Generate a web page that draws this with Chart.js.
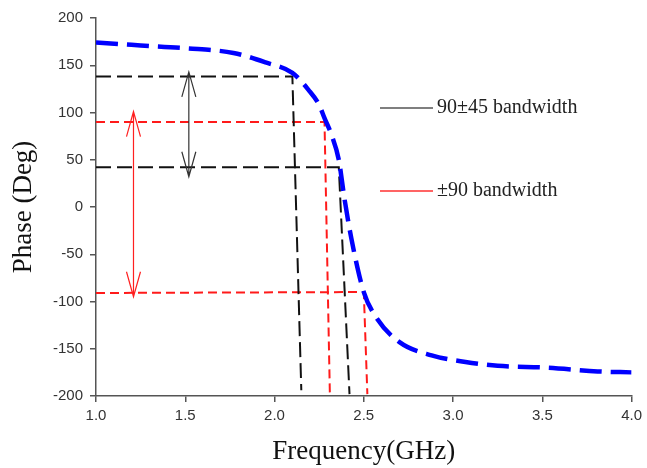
<!DOCTYPE html>
<html>
<head>
<meta charset="utf-8">
<script src="https://cdn.jsdelivr.net/npm/chart.js@4.4.1/dist/chart.umd.min.js"></script>
<style>
  html, body { margin: 0; padding: 0; background: #fff; }
  #wrap { width: 647px; height: 468px; }
</style>
</head>
<body>
<div id="wrap"><canvas id="phaseChart"></canvas></div>
<script>
// phase response of the shifter
const freqGHz = [1.0, 1.25, 1.5, 1.77, 1.95, 2.10, 2.19, 2.25, 2.28, 2.32, 2.36, 2.39, 2.43, 2.50, 2.57, 2.70, 2.88, 3.07, 3.25, 3.53, 3.81, 4.0];
const phaseDeg = [174, 171, 168, 163, 153, 142, 124, 108, 94, 76, 50, 11, -33, -90, -117, -143, -157, -164, -168, -170, -174, -175];

// bandwidth guide lines: horizontal level, then drop to the axis
const band45UpperX = [1.0, 2.10, 2.15];
const band45UpperY = [138, 138, -194];
const band45LowerX = [1.0, 2.36, 2.42];
const band45LowerY = [42, 42, -198];
const band90UpperX = [1.0, 2.28, 2.31];
const band90UpperY = [90, 90, -198];
const band90LowerX = [1.0, 2.50, 2.52];
const band90LowerY = [-91, -90, -198];

// double arrows marking each band
const arrowX = [1.52, 1.21];
const arrowTop = [143, 101];
const arrowBottom = [32, -95];
const arrowColors = ['#333333', '#ff2020'];

const legendLabels = ['90\u00b145 bandwidth', '\u00b190 bandwidth'];
const legendColors = ['#555555', '#ff3030'];

const xTicks = [1.0, 1.5, 2.0, 2.5, 3.0, 3.5, 4.0];

function pts(xs, ys) {
  return xs.map((x, i) => ({ x: x, y: ys[i] }));
}

function guide(xs, ys, color, dash) {
  return {
    data: pts(xs, ys),
    borderColor: color,
    borderWidth: 2,
    borderDash: dash,
    pointRadius: 0,
    tension: 0,
    fill: false
  };
}

const arrowPlugin = {
  id: 'arrows',
  afterDatasetsDraw(chart) {
    const ctx = chart.ctx;
    const xs = chart.scales.x, ys = chart.scales.y;
    ctx.save();
    ctx.lineWidth = 1.2;
    for (let i = 0; i < arrowX.length; i++) {
      const px = xs.getPixelForValue(arrowX[i]);
      const t = ys.getPixelForValue(arrowTop[i]);
      const b = ys.getPixelForValue(arrowBottom[i]);
      ctx.strokeStyle = arrowColors[i];
      ctx.beginPath();
      ctx.moveTo(px, t); ctx.lineTo(px, b);
      // open heads
      ctx.moveTo(px - 7, t + 25); ctx.lineTo(px, t); ctx.lineTo(px + 7, t + 25);
      ctx.moveTo(px - 7, b - 25); ctx.lineTo(px, b); ctx.lineTo(px + 7, b - 25);
      ctx.stroke();
    }
    // legend at the right of the curve
    const lx = 380, ly = [108, 191];
    ctx.font = '20px "Liberation Serif", "Times New Roman", serif';
    ctx.textBaseline = 'middle';
    for (let i = 0; i < legendLabels.length; i++) {
      ctx.strokeStyle = legendColors[i];
      ctx.lineWidth = 1.5;
      ctx.beginPath();
      ctx.moveTo(lx, ly[i]); ctx.lineTo(lx + 53, ly[i]);
      ctx.stroke();
      ctx.fillStyle = '#222';
      ctx.fillText(legendLabels[i], lx + 57, ly[i]);
    }
    ctx.restore();
  }
};

const axisColor = '#555555';
const tickFont = { family: '"Liberation Sans", Arial, sans-serif', size: 15 };
const titleFont = { family: '"Liberation Serif", "Times New Roman", serif', size: 27 };

new Chart(document.getElementById('phaseChart'), {
  type: 'line',
  data: {
    datasets: [
      {
        data: pts(freqGHz, phaseDeg),
        borderColor: '#0000ff',
        borderWidth: 4.5,
        borderDash: [22, 9],
        pointRadius: 0,
        cubicInterpolationMode: 'monotone',
        fill: false
      },
      guide(band45UpperX, band45UpperY, '#111111', [15, 6]),
      guide(band45LowerX, band45LowerY, '#111111', [15, 6]),
      guide(band90UpperX, band90UpperY, '#ff1a1a', [9, 5]),
      guide(band90LowerX, band90LowerY, '#ff1a1a', [9, 5])
    ]
  },
  options: {
    responsive: true,
    maintainAspectRatio: false,
    animation: false,
    layout: { padding: { top: 18, right: 13, left: 0, bottom: 0 } },
    plugins: { legend: { display: false }, tooltip: { enabled: false } },
    scales: {
      x: {
        type: 'linear',
        min: 1,
        max: 4,
        afterBuildTicks: (scale) => { scale.ticks = xTicks.map(v => ({ value: v })); },
        afterFit: (scale) => { scale.height = 72; },
        ticks: { color: '#333', font: tickFont, padding: 5, callback: v => v.toFixed(1) },
        grid: { drawOnChartArea: false, drawTicks: true, tickLength: 6, color: axisColor, lineWidth: 1.5 },
        border: { color: axisColor, width: 1.5 },
        title: { display: true, text: 'Frequency(GHz)', color: '#111', font: titleFont, padding: { top: 4, bottom: 0 } }
      },
      y: {
        min: -200,
        max: 200,
        ticks: { stepSize: 50, color: '#333', font: tickFont, padding: 7 },
        afterFit: (scale) => { scale.width = 96; },
        grid: { drawOnChartArea: false, drawTicks: true, tickLength: 6, color: axisColor, lineWidth: 1.5 },
        border: { color: axisColor, width: 1.5 },
        title: { display: true, text: 'Phase (Deg)', color: '#111', font: titleFont, padding: { top: 8, bottom: 0 } }
      }
    }
  },
  plugins: [arrowPlugin]
});
</script>
</body>
</html>
